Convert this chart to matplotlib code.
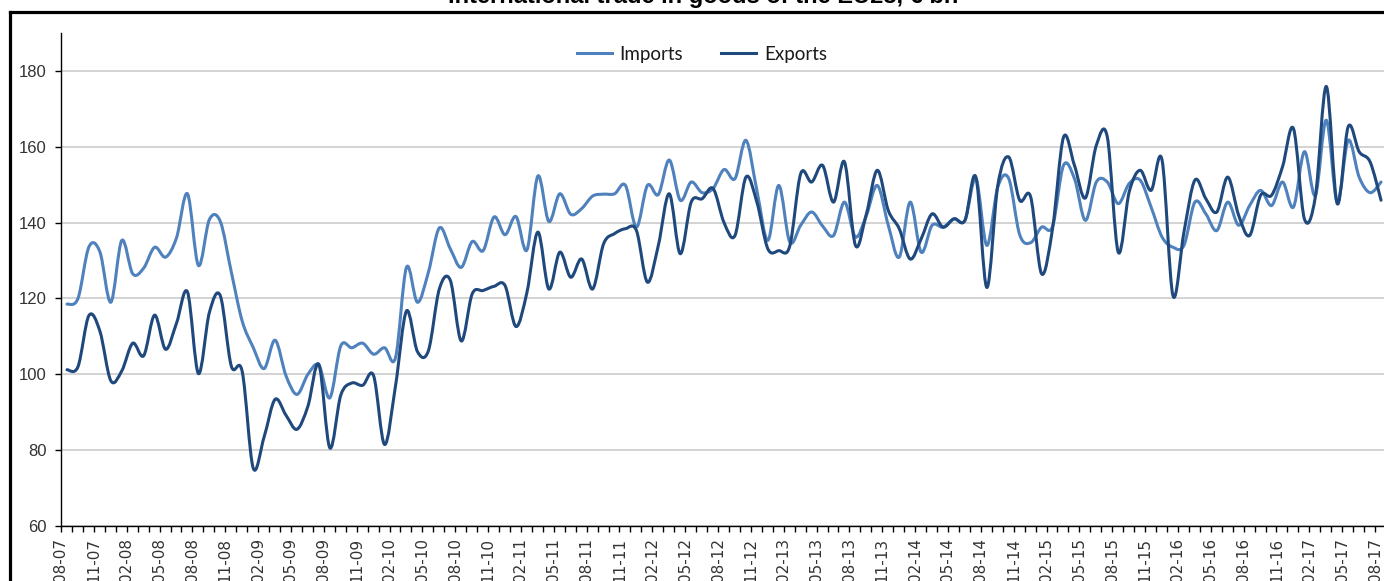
import numpy as np
import matplotlib
matplotlib.use('Agg')
import matplotlib.pyplot as plt
from matplotlib.path import Path
from matplotlib.patches import PathPatch
from matplotlib.lines import Line2D

title = "International trade in goods of the EU28, € bn"

# monthly values, Aug 2007 .. Aug 2017 (121 months)
imports = [118.5, 120.0, 133.6, 132.3, 119.0, 135.3, 126.5, 128.0, 133.5, 130.9,
           136.0, 147.6, 128.7, 140.8, 140.3, 127.0, 114.0, 107.1, 101.5, 109.0,
           99.6, 94.7, 100.0, 102.4, 93.8, 107.5, 107.0, 108.2, 105.3, 107.0,
           104.4, 128.2, 119.0, 126.9, 138.6, 133.1, 128.2, 135.0, 132.6, 141.5,
           136.8, 141.6, 132.8, 152.3, 140.3, 147.6, 142.2, 143.7, 147.0, 147.5,
           147.6, 149.8, 138.8, 149.8, 147.4, 156.5, 145.9, 150.7, 147.9, 149.0,
           154.0, 151.6, 161.7, 148.5, 135.3, 149.8, 134.9, 139.3, 142.8, 139.1,
           136.6, 145.4, 136.2, 141.9, 149.8, 139.3, 130.9, 145.4, 132.2, 139.3,
           138.8, 141.0, 140.6, 151.6, 134.0, 149.4, 151.6, 136.8, 134.7, 138.8,
           139.0, 155.1, 151.6, 140.6, 150.7, 150.7, 145.0, 150.3, 151.2, 144.1,
           136.2, 133.5, 134.0, 145.4, 142.3, 137.9, 145.4, 139.3, 144.5, 148.5,
           144.5, 150.7, 144.1, 158.7, 147.2, 167.0, 145.4, 161.7, 152.0, 147.9,
           150.7]

exports = [101.2, 102.0, 115.5, 111.4, 98.3, 100.9, 108.2, 104.9, 115.6, 106.6,
           113.5, 121.7, 100.2, 116.3, 120.7, 102.2, 100.7, 75.3, 83.5, 93.4,
           89.2, 85.5, 91.6, 102.6, 80.6, 94.5, 97.7, 97.1, 99.6, 81.5,
           97.0, 116.7, 106.0, 106.2, 122.5, 124.8, 108.8, 121.2, 122.1, 123.2,
           123.4, 112.6, 121.6, 137.5, 122.5, 132.2, 125.6, 130.4, 122.5, 134.4,
           137.1, 138.4, 137.9, 124.3, 134.0, 147.6, 131.8, 145.4, 146.3, 149.0,
           140.0, 136.6, 152.0, 145.4, 133.1, 132.6, 133.8, 152.9, 150.7, 155.1,
           145.4, 156.0, 134.0, 142.3, 153.8, 143.2, 138.4, 130.4, 135.7, 142.3,
           138.8, 141.0, 140.6, 152.0, 122.9, 149.8, 157.3, 145.9, 146.8, 126.5,
           138.4, 162.5, 155.1, 146.5, 160.4, 162.6, 132.2, 148.1, 153.8, 148.5,
           156.5, 120.7, 137.5, 151.2, 146.3, 142.8, 152.0, 141.9, 136.6, 147.2,
           147.2, 154.7, 164.8, 141.0, 146.8, 175.9, 145.0, 165.3, 158.7, 156.0,
           145.9]

month_labels = ["08-07", "11-07", "02-08", "05-08", "08-08", "11-08", "02-09",
                "05-09", "08-09", "11-09", "02-10", "05-10", "08-10", "11-10",
                "02-11", "05-11", "08-11", "11-11", "02-12", "05-12", "08-12",
                "11-12", "02-13", "05-13", "08-13", "11-13", "02-14", "05-14",
                "08-14", "11-14", "02-15", "05-15", "08-15", "11-15", "02-16",
                "05-16", "08-16", "11-16", "02-17", "05-17", "08-17"]

c_imp = '#4F81BD'
c_exp = '#1F497D'


def smooth_path(xs, ys):
    # bezier curve through the points, like a spreadsheet "smoothed line"
    pts = np.column_stack([xs, ys]).astype(float)
    n = len(pts)
    verts = [pts[0]]
    codes = [Path.MOVETO]
    for i in range(n - 1):
        p0 = pts[max(i - 1, 0)]
        p1 = pts[i]
        p2 = pts[i + 1]
        p3 = pts[min(i + 2, n - 1)]
        verts += [p1 + (p2 - p0) / 6, p2 - (p3 - p1) / 6, p2]
        codes += [Path.CURVE4] * 3
    return Path(verts, codes)


fig = plt.figure(figsize=(13.84, 5.81), dpi=100)
ax = fig.add_axes([61 / 1384, 55 / 581, 1331 / 1384, 493 / 581])

x = np.arange(len(imports))
for vals, col in [(imports, c_imp), (exports, c_exp)]:
    ax.add_patch(PathPatch(smooth_path(x, vals), fill=False, edgecolor=col,
                           lw=2.2, capstyle='round', joinstyle='round', zorder=3))

ax.set_xlim(-0.55, 121)
ax.set_ylim(60, 190)

ax.set_yticks(range(60, 181, 20))
ax.yaxis.grid(True, color='#c8c8c8', lw=1.1)
ax.set_axisbelow(True)
ax.tick_params(axis='y', direction='out', length=4, width=1, pad=6.5,
               labelsize=12, labelcolor='#333333')
for lab in ax.get_yticklabels():
    lab.set_family('Liberation Sans')

month_ticks = np.arange(0, 122) - 0.55
ax.set_xticks(month_ticks, minor=True)
ax.set_xticks(month_ticks[::3][:len(month_labels)])
ax.set_xticklabels(month_labels, rotation=90, fontsize=11, color='#333333')
ax.tick_params(axis='x', which='both', direction='out', length=4, width=1, pad=4.5)

for s in ['top', 'right']:
    ax.spines[s].set_visible(False)
for s in ['left', 'bottom']:
    ax.spines[s].set_color('black')
    ax.spines[s].set_linewidth(1)

handles = [Line2D([], [], color=c_imp, lw=2.2), Line2D([], [], color=c_exp, lw=2.2)]
fig.legend(handles, ['Imports', 'Exports'], loc='center', bbox_to_anchor=(0.507, 0.907),
           ncol=2, frameon=False, prop={'family': 'Lato', 'size': 13.5},
           handlelength=1.9, handletextpad=0.4, columnspacing=2.0, labelcolor='#1a1a1a')

# outer frame and the title cut at the top
fig.add_artist(Line2D([9.5 / 1384, 1], [569 / 581, 569 / 581], color='black', lw=2.3))
fig.add_artist(Line2D([9.5 / 1384, 9.5 / 1384], [0, 569 / 581], color='black', lw=2.3))
fig.text(0.508, 0.9955, title, ha='center', va='baseline', fontsize=17,
         fontweight='bold', family='Liberation Sans')

fig.savefig('out.png', dpi=100)
